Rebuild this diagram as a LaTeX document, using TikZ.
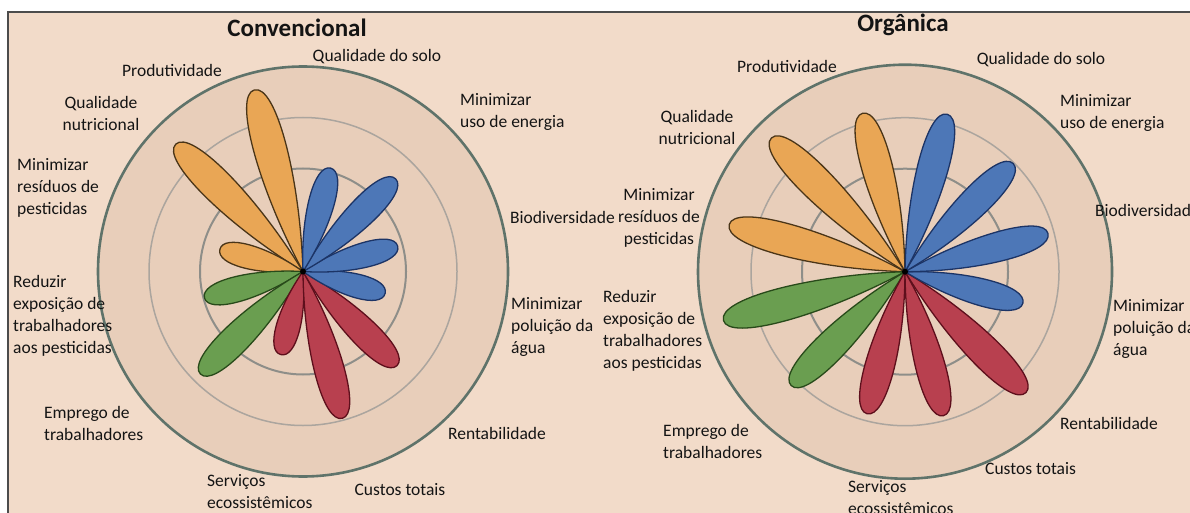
\documentclass[tikz,border=0pt]{standalone}
\usepackage{fontspec}
\setmainfont{Carlito}
\definecolor{bgc}{HTML}{F2DBC9}
\definecolor{circc}{HTML}{E8CEBA}
\definecolor{ringout}{HTML}{5F736A}
\definecolor{ringin}{HTML}{8E8E89}
\definecolor{ringmid}{HTML}{ABA59E}
\definecolor{orf}{HTML}{E9A655}
\definecolor{ord}{HTML}{4A3518}
\definecolor{blf}{HTML}{4D77B7}
\definecolor{bld}{HTML}{1C3466}
\definecolor{rdf}{HTML}{B8404F}
\definecolor{rdd}{HTML}{5E0F1C}
\definecolor{grf}{HTML}{6A9E50}
\definecolor{grd}{HTML}{284A1A}
\tikzset{
  lbl/.style={font=\fontsize{17.5}{22}\selectfont, inner sep=0pt, text=black!92},
  ttl/.style={font=\fontsize{25}{30}\selectfont\bfseries, inner sep=0pt, text=black!92},
  orp/.style={fill=orf, draw=ord, line width=1.3pt},
  blp/.style={fill=blf, draw=bld, line width=1.3pt},
  rdp/.style={fill=rdf, draw=rdd, line width=1.3pt},
  grp/.style={fill=grf, draw=grd, line width=1.3pt},
  outring/.style={draw=ringout, line width=2.6pt, fill=circc},
  midring/.style={draw=ringmid, line width=1.5pt},
  inring/.style={draw=ringin, line width=2pt},
  frame/.style={draw=black!70, line width=1.2pt},
}
\newcommand{\petal}[5]{%
  \pgfmathsetmacro{\phw}{(8+0.045*#4)/0.75}%
  \pgfmathsetmacro{\pmid}{0.5*#4}%
  \begin{scope}[shift={(#1,#2)}, rotate=#3]
    \draw[#5] (0,0) .. controls (\pmid,\phw) and (#4,\phw) .. (#4,0)
                    .. controls (#4,-\phw) and (\pmid,-\phw) .. cycle;
  \end{scope}}
\begin{document}
\begin{tikzpicture}[x=1pt,y=-1pt]
\useasboundingbox (0,0) rectangle (1190,513);
\clip (0,0) rectangle (1190,513);
\fill[white] (0,0) rectangle (1190,513);
\fill[bgc] (8,12) rectangle (1190,513);
\draw[frame] (8,513) -- (8,12) -- (1190,12);

% ---------- left chart ----------
\coordinate (cl) at (303,271.5);
\draw[outring] (cl) circle[radius=205pt];
\draw[midring] (cl) circle[radius=154pt];
\draw[inring] (cl) circle[radius=103pt];
\petal{303}{271.5}{105}{188}{orp}
\petal{303}{271.5}{135}{180}{orp}
\petal{303}{271.5}{165}{86}{orp}
\petal{303}{271.5}{195}{102}{grp}
\petal{303}{271.5}{225}{145}{grp}
\petal{303}{271.5}{255}{86}{rdp}
\petal{303}{271.5}{285}{152}{rdp}
\petal{303}{271.5}{315}{133}{rdp}
\petal{303}{271.5}{345}{85}{blp}
\petal{303}{271.5}{15}{98}{blp}
\petal{303}{271.5}{45}{131}{blp}
\petal{303}{271.5}{75}{107}{blp}
\fill[black] (cl) circle[radius=3pt];

\node[ttl] (tl) at (297,28) {Convencional};
\node[lbl] (l1) at (172,70) {Produtividade};
\node[lbl] (l2) at (377,57) {Qualidade do solo};
\node[lbl, align=center] (l3) at (101,113) {Qualidade\\nutricional};
\node[lbl, align=left, anchor=west] (l4) at (460,112) {Minimizar\\uso de energia};
\node[lbl, align=left, anchor=west] (l5) at (17,188) {Minimizar\\resíduos de\\pesticidas};
\node[lbl, anchor=west] (l6) at (510,217) {Biodiversidade};
\node[lbl, align=left, anchor=west] (l7) at (13,316) {Reduzir\\exposição de\\trabalhadores\\aos pesticidas};
\node[lbl, align=left, anchor=west] (l8) at (511,327) {Minimizar\\poluição da\\água};
\node[lbl, align=left, anchor=west] (l9) at (44,423) {Emprego de\\trabalhadores};
\node[lbl] (l10) at (497,433) {Rentabilidade};
\node[lbl, align=left, anchor=west] (l11) at (207,492) {Serviços\\ecossistêmicos};
\node[lbl] (l12) at (400,490) {Custos totais};

% ---------- right chart ----------
\coordinate (cr) at (905,271.7);
\draw[outring] (cr) circle[radius=207pt];
\draw[midring] (cr) circle[radius=154pt];
\draw[inring] (cr) circle[radius=103pt];
\petal{905}{271.7}{105}{164}{orp}
\petal{905}{271.7}{135}{189}{orp}
\petal{905}{271.7}{165}{182}{orp}
\petal{905}{271.7}{195}{188}{grp}
\petal{905}{271.7}{225}{161}{grp}
\petal{905}{271.7}{255}{147}{rdp}
\petal{905}{271.7}{285}{149}{rdp}
\petal{905}{271.7}{315}{171}{rdp}
\petal{905}{271.7}{345}{122}{blp}
\petal{905}{271.7}{15}{148}{blp}
\petal{905}{271.7}{45}{153}{blp}
\petal{905}{271.7}{75}{163}{blp}
\fill[black] (cr) circle[radius=3pt];

\node[ttl] (tr) at (903,25) {Orgânica};
\node[lbl] (r1) at (787,66) {Produtividade};
\node[lbl] (r2) at (1041,60) {Qualidade do solo};
\node[lbl, align=center] (r3) at (697,127) {Qualidade\\nutricional};
\node[lbl, align=left, anchor=west] (r4) at (1060,113) {Minimizar\\uso de energia};
\node[lbl, align=center] (r5) at (659,218) {Minimizar\\resíduos de\\pesticidas};
\node[lbl, anchor=west] (r6) at (1095,210) {Biodiversidade};
\node[lbl, align=left, anchor=west] (r7) at (603,331) {Reduzir\\exposição de\\trabalhadores\\aos pesticidas};
\node[lbl, align=left, anchor=west] (r8) at (1113,329) {Minimizar\\poluição da\\água};
\node[lbl, align=left, anchor=west] (r9) at (663,441) {Emprego de\\trabalhadores};
\node[lbl, anchor=west] (r10) at (1060,423) {Rentabilidade};
\node[lbl, anchor=west] (r12) at (985,469) {Custos totais};
\node[lbl, align=left, anchor=west] (r11) at (848,498) {Serviços\\ecossistêmicos};
\end{tikzpicture}
\end{document}
